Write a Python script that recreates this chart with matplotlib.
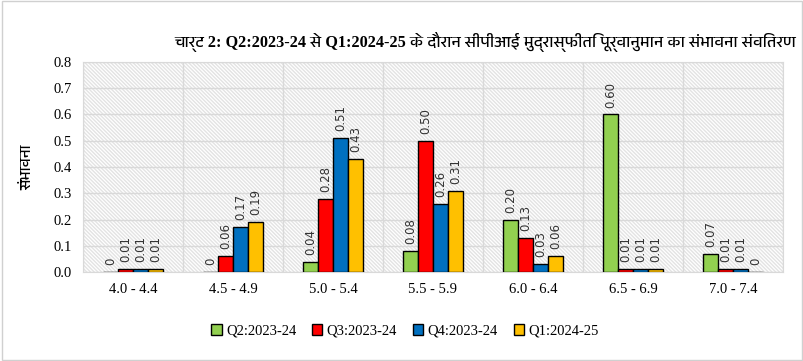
import numpy as np
import matplotlib
matplotlib.use("Agg")
from matplotlib import pyplot as plt
from matplotlib import font_manager

categories = ["4.0 - 4.4", "4.5 - 4.9", "5.0 - 5.4", "5.5 - 5.9", "6.0 - 6.4", "6.5 - 6.9", "7.0 - 7.4"]
q2_2324 = [0, 0, 0.04, 0.08, 0.20, 0.60, 0.07]
q3_2324 = [0.01, 0.06, 0.28, 0.50, 0.13, 0.01, 0.01]
q4_2324 = [0.01, 0.17, 0.51, 0.26, 0.03, 0.01, 0.01]
q1_2425 = [0.01, 0.19, 0.43, 0.31, 0.06, 0.01, 0]
series_names = ["Q2:2023-24", "Q3:2023-24", "Q4:2023-24", "Q1:2024-25"]
colors = ["#92D050", "#FF0000", "#0070C0", "#FFC000"]
title = "चार्ट 2: Q2:2023-24 से Q1:2024-25 के दौरान सीपीआई मुद्रास्फीति पूर्वानुमान का संभावना संवितरण"
ylabel = "संभावना"

# serif for latin text, some devanagari font as fallback
deva = sorted(set(f.name for f in font_manager.fontManager.ttflist
                  if "Devanagari" in f.name or "Lohit" in f.name or "Mangal" in f.name))
serif = ["Liberation Serif"] + deva + ["DejaVu Sans"]

fig = plt.figure(figsize=(8.04, 3.61), dpi=100)
ax = fig.add_axes([0.1032, 0.2465, 0.8707, 0.5818])
plt.rcParams["hatch.linewidth"] = 0.5
ax.patch.set_hatch("\\" * 9)
ax.patch.set_edgecolor("#e3e3e3")
ax.patch.set_linewidth(0)

x = np.arange(len(categories))
w = 0.15
data = [q2_2324, q3_2324, q4_2324, q1_2425]
for i, (vals, name, c) in enumerate(zip(data, series_names, colors)):
    pos = x + (i - 1.5) * w
    ax.bar(pos, vals, w, color=c, edgecolor="black", linewidth=1, label=name, zorder=3)
    for p, v in zip(pos, vals):
        txt = "0" if v == 0 else f"{v:.2f}"
        ax.annotate(txt, (p, v), xytext=(0, 5), textcoords="offset points",
                    rotation=90, ha="center", va="bottom", fontsize=8.5,
                    family="DejaVu Sans", color="#333333", zorder=4)

ax.set_xlim(-0.5, len(categories) - 0.5)
ax.set_ylim(0, 0.8)
ax.set_yticks(np.arange(0, 0.81, 0.1))
ax.set_yticklabels([f"{t:.1f}" for t in np.arange(0, 0.81, 0.1)], family=serif, fontsize=10.5)
ax.set_xticks(x)
ax.set_xticklabels(categories, family=serif, fontsize=10.5)
ax.set_xticks(np.arange(-0.5, len(categories)), minor=True)
ax.grid(True, which="minor", axis="x", color="#d9d9d9", linewidth=1, zorder=1)
ax.grid(True, which="major", axis="y", color="#d9d9d9", linewidth=1, zorder=1)
ax.tick_params(which="both", length=0)
ax.tick_params(axis="y", pad=8)
ax.tick_params(axis="x", pad=8)
for s in ax.spines.values():
    s.set_color("#d9d9d9")
ax.set_axisbelow(True)
ax.set_ylabel(ylabel, family=serif, fontsize=11, fontweight="bold", labelpad=14)

fig.text(0.99, 0.885, title, ha="right", va="center", family=serif, fontsize=11.7, fontweight="bold")

leg = fig.legend(loc="center", bbox_to_anchor=(0.504, 0.083), ncol=4, frameon=False,
                 prop={"family": serif, "size": 10.5}, handlelength=0.7, handleheight=0.7,
                 columnspacing=1.1, handletextpad=0.3)

fig.patches.append(plt.Rectangle((0.002, 0.003), 0.996, 0.994, transform=fig.transFigure,
                                 fill=False, edgecolor="#d0d0d0", linewidth=1))
fig.savefig("out.png", dpi=100)
